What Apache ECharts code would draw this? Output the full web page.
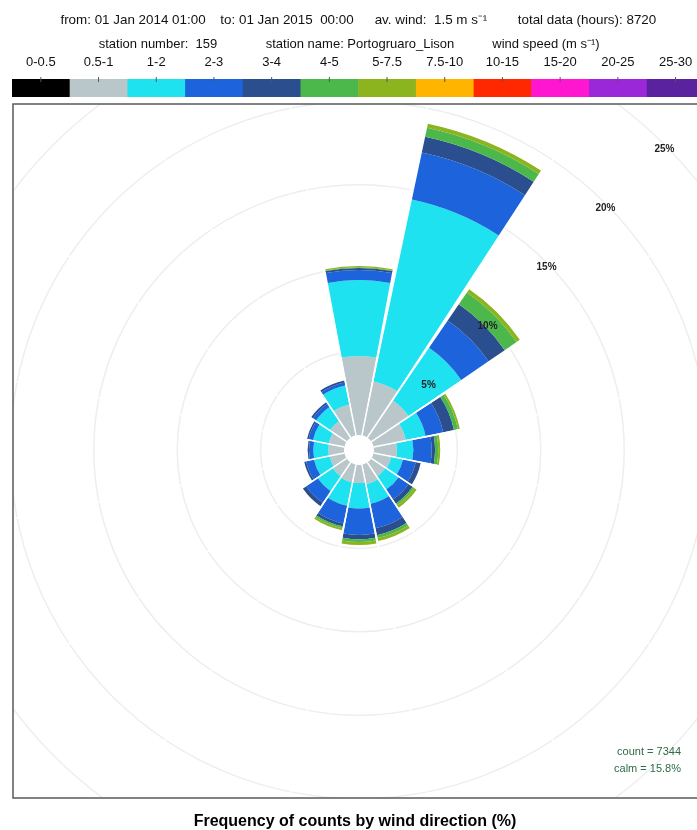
<!DOCTYPE html>
<html>
<head>
<meta charset="utf-8">
<script src="https://cdn.jsdelivr.net/npm/echarts@6/dist/echarts.min.js"></script>
<style>
html, body { margin: 0; padding: 0; background: #fff; }
#windrose { width: 697px; height: 830px; }
</style>
</head>
<body>
<div id="windrose"></div>
<script>
var directions = ['N', 'NNE', 'NE', 'ENE', 'E', 'ESE', 'SE', 'SSE', 'S', 'SSW', 'SW', 'WSW', 'W', 'WNW', 'NW', 'NNW'];
var speedBins = ['0-0.5', '0.5-1', '1-2', '2-3', '3-4', '4-5', '5-7.5', '7.5-10', '10-15', '15-20', '20-25', '25-30'];
var speedColors = ['#000000', '#b9c7cb', '#1ee2f0', '#1d64dc', '#2b4f8e', '#4cb84b', '#8cb41f', '#ffb400', '#ff2800', '#ff16d0', '#9b28d8', '#5b22a0'];

// % of counts per direction, one array per speed bin (m/s)
var ws05_1 = [4.74, 3.30, 2.70, 1.98, 1.38, 1.08, 1.02, 1.20, 1.08, 1.08, 1.02, 0.90, 0.94, 0.96, 1.20, 1.89];
var ws1_2  = [4.55, 11.15, 3.83, 1.20, 0.98, 0.72, 0.96, 1.20, 1.52, 1.44, 1.08, 0.96, 0.90, 0.96, 1.02, 1.17];
var ws2_3  = [0.60, 2.88, 1.98, 1.08, 1.10, 0.78, 0.72, 1.50, 1.60, 1.08, 0.84, 0.48, 0.26, 0.27, 0.24, 0.18];
var ws3_4  = [0.12, 0.96, 1.18, 0.66, 0.20, 0.30, 0.30, 0.42, 0.25, 0.18, 0.24, 0.12, 0.08, 0.09, 0.12, 0.12];
var ws4_5  = [0.04, 0.56, 0.86, 0.24, 0.19, 0, 0.12, 0.18, 0.17, 0.12, 0, 0, 0, 0, 0, 0];
var ws5_75 = [0.08, 0.24, 0.24, 0.12, 0.12, 0, 0.18, 0.18, 0.18, 0.12, 0, 0, 0, 0, 0, 0];

var ringMax = 25;
var ringStep = 5;

var headerLine1 = [
    {text: 'from: 01 Jan 2014 01:00', x: 133},
    {text: 'to: 01 Jan 2015  00:00', x: 287},
    {text: 'av. wind:  1.5 m s\u207B\u00B9', x: 431},
    {text: 'total data (hours): 8720', x: 587}
];
var headerLine2 = [
    {text: 'station number:  159', x: 158},
    {text: 'station name: Portogruaro_Lison', x: 360},
    {text: 'wind speed (m s\u207B\u00B9)', x: 546}
];

var chart = echarts.init(document.getElementById('windrose'));

var binData = [ws05_1, ws1_2, ws2_3, ws3_4, ws4_5, ws5_75];
var series = [];
for (var i = 0; i < binData.length; i++) {
    series.push({
        name: speedBins[i + 1],
        type: 'bar',
        coordinateSystem: 'polar',
        polarIndex: 0,
        stack: 'rose',
        barCategoryGap: '6%',
        data: binData[i],
        itemStyle: {color: speedColors[i + 1]},
        silent: true
    });
}

var graphics = [];
// white masks so the rings get clipped to the panel
graphics.push({type: 'rect', z: 1, shape: {x: 0, y: 0, width: 697, height: 104}, style: {fill: '#fff'}});
graphics.push({type: 'rect', z: 1, shape: {x: 0, y: 0, width: 13, height: 830}, style: {fill: '#fff'}});
graphics.push({type: 'rect', z: 1, shape: {x: 0, y: 798, width: 697, height: 32}, style: {fill: '#fff'}});
// panel border
graphics.push({type: 'rect', z: 20, shape: {x: 13, y: 104, width: 700, height: 694},
    style: {fill: 'none', stroke: '#5a5a5a', lineWidth: 1.5}});

function headerText(t, y, size) {
    return {type: 'text', z: 20, x: t.x, y: y,
        style: {text: t.text, align: 'center', verticalAlign: 'middle',
            fontSize: size || 13, fontFamily: 'Liberation Sans', fill: '#111'}};
}
headerLine1.forEach(function (t) { graphics.push(headerText(t, 20, 13.4)); });
headerLine2.forEach(function (t) { graphics.push(headerText(t, 44)); });

// colour key
var keyX = 12, keyW = 57.7;
for (var k = 0; k < speedBins.length; k++) {
    graphics.push({type: 'rect', z: 20,
        shape: {x: keyX + k * keyW, y: 79, width: keyW + 0.6, height: 18},
        style: {fill: speedColors[k]}});
    graphics.push({type: 'line', z: 21,
        shape: {x1: keyX + (k + 0.5) * keyW, y1: 77, x2: keyX + (k + 0.5) * keyW, y2: 82},
        style: {stroke: '#555', lineWidth: 1}});
    graphics.push(headerText({text: speedBins[k], x: keyX + (k + 0.5) * keyW}, 62));
}

graphics.push({type: 'text', z: 20, x: 355, y: 822,
    style: {text: 'Frequency of counts by wind direction (%)', align: 'center', verticalAlign: 'middle',
        fontSize: 16, fontWeight: 'bold', fontFamily: 'Liberation Sans', fill: '#000'}});
graphics.push({type: 'text', z: 20, x: 681, y: 752,
    style: {text: 'count = 7344', align: 'right', verticalAlign: 'middle',
        fontSize: 11, fontFamily: 'Liberation Sans', fill: '#2d6a47'}});
graphics.push({type: 'text', z: 20, x: 681, y: 769,
    style: {text: 'calm = 15.8%', align: 'right', verticalAlign: 'middle',
        fontSize: 11, fontFamily: 'Liberation Sans', fill: '#2d6a47'}});

var ringColors = ['rgba(0,0,0,0)'];
for (var r = ringStep; r <= ringMax; r += ringStep) ringColors.push('#eeeeee');

var option = {
    animation: false,
    backgroundColor: '#fff',
    polar: [
        {center: [359, 450], radius: [15, 432]},
        {center: [359, 450], radius: [15, 432]}
    ],
    angleAxis: [
        {
            polarIndex: 0,
            type: 'category',
            data: directions,
            startAngle: 101.25,
            z: 3,
            axisLine: {show: false},
            axisTick: {show: false},
            axisLabel: {show: false},
            splitLine: {show: true, lineStyle: {color: '#fff', width: 1.5}}
        },
        {
            polarIndex: 1,
            type: 'value',
            min: 0,
            max: 360,
            startAngle: 45,
            show: false
        }
    ],
    radiusAxis: [
        {
            polarIndex: 0,
            type: 'value',
            min: 0,
            max: ringMax,
            interval: ringStep,
            axisLine: {show: false},
            axisTick: {show: false},
            axisLabel: {show: false},
            splitLine: {show: true, lineStyle: {color: ringColors, width: 1.5}}
        },
        {
            polarIndex: 1,
            type: 'value',
            min: 0,
            max: ringMax,
            interval: ringStep,
            z: 5,
            axisLine: {show: false},
            axisTick: {show: false},
            splitLine: {show: false},
            axisLabel: {
                show: true,
                margin: 0,
                align: 'center',
                verticalAlign: 'top',
                fontSize: 10,
                fontWeight: 'bold',
                fontFamily: 'Liberation Sans',
                color: '#222',
                formatter: function (v) { return v === 0 ? '' : v + '%'; }
            }
        }
    ],
    graphic: graphics,
    series: series
};
chart.setOption(option);
</script>
</body>
</html>
